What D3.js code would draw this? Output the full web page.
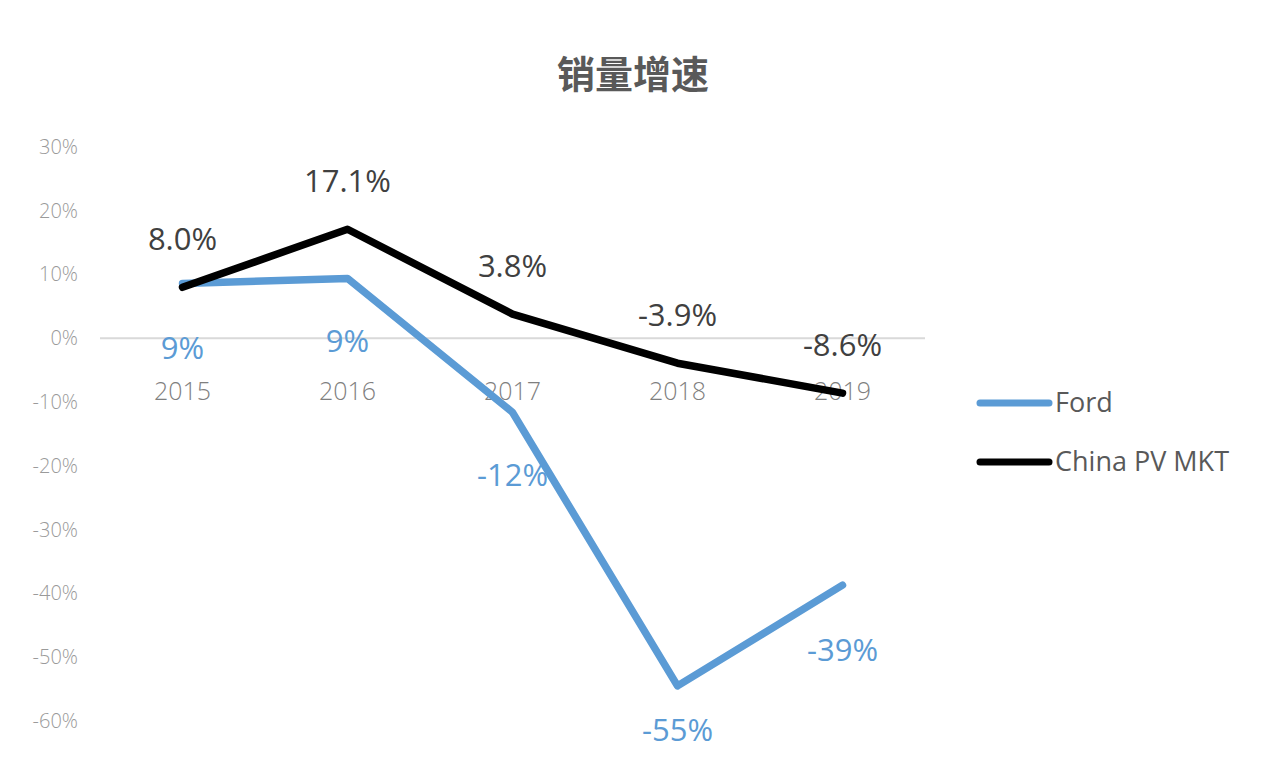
<!DOCTYPE html>
<html><head><meta charset="utf-8">
<script src="https://cdn.jsdelivr.net/npm/d3@7"></script>
<style>body{margin:0;background:#fff}</style>
</head><body>
<svg id="c" width="1270" height="758"></svg>
<script>
const years = ["2015","2016","2017","2018","2019"];
const fordValues = [8.6, 9.4, -11.6, -54.5, -38.7];
const fordLabels = ["9%","9%","-12%","-55%","-39%"];
const chinaValues = [8.0, 17.1, 3.8, -3.9, -8.6];
const chinaLabels = ["8.0%","17.1%","3.8%","-3.9%","-8.6%"];
const yTicks = [30,20,10,0,-10,-20,-30,-40,-50,-60];
const seriesNames = ["Ford","China PV MKT"];
const colors = ["#5b9bd5","#000000"];

const svg = d3.select("#c");
const x = d3.scaleBand().domain(years).range([100,925]);
const y = d3.scaleLinear().domain([-60,30]).range([721,147]);

svg.append("text").attr("x",633).attr("y",75).attr("dy","0.35em").attr("text-anchor","middle")
  .attr("font-family","Noto Sans CJK SC").attr("font-weight","bold").attr("font-size",38)
  .attr("fill","#595959").text("销量增速");

// y axis
const yAxis = d3.axisLeft(y).tickValues(yTicks).tickFormat(d=>d+"%").tickSize(0).tickPadding(0);
const ga = svg.append("g").attr("transform","translate(78,0)").call(yAxis);
ga.select(".domain").remove();
ga.selectAll("text").attr("font-family","Open Sans").attr("font-weight","300").attr("font-size",20).attr("fill","#9a9a9a");

// zero line
svg.append("line").attr("x1",100).attr("x2",925).attr("y1",y(0)).attr("y2",y(0))
  .attr("stroke","#d9d9d9").attr("stroke-width",2);

// x axis labels
const xAxis = d3.axisBottom(x).tickSize(0).tickPadding(0);
const gx = svg.append("g").attr("transform",`translate(0,${y(0)+44})`).call(xAxis);
gx.select(".domain").remove();
gx.selectAll("text").attr("font-family","Open Sans").attr("font-weight","300").attr("font-size",25).attr("fill","#7f7f7f");

const line = d3.line().x((d,i)=>x(years[i])+x.bandwidth()/2).y(d=>y(d));

svg.append("path").datum(fordValues).attr("d",line).attr("fill","none")
  .attr("stroke",colors[0]).attr("stroke-width",7.5).attr("stroke-linejoin","round").attr("stroke-linecap","round");
svg.append("path").datum(chinaValues).attr("d",line).attr("fill","none")
  .attr("stroke",colors[1]).attr("stroke-width",7.5).attr("stroke-linejoin","round").attr("stroke-linecap","round");

// labels
const fordDy = [65,63,63,44,65];
svg.selectAll(".fl").data(fordValues).enter().append("text")
  .attr("x",(d,i)=>x(years[i])+x.bandwidth()/2)
  .attr("y",(d,i)=>y(d)+fordDy[i])
  .attr("dy","0.35em").attr("text-anchor","middle")
  .attr("font-family","Open Sans").attr("font-size",31).attr("fill",colors[0])
  .text((d,i)=>fordLabels[i]);
svg.selectAll(".cl").data(chinaValues).enter().append("text")
  .attr("x",(d,i)=>x(years[i])+x.bandwidth()/2)
  .attr("y",d=>y(d)-48)
  .attr("dy","0.35em").attr("text-anchor","middle")
  .attr("font-family","Open Sans").attr("font-size",31).attr("fill","#404040")
  .text((d,i)=>chinaLabels[i]);

// legend
const lg = svg.append("g");
seriesNames.forEach((n,i)=>{
  const yy = 403 + i*59;
  lg.append("line").attr("x1",980).attr("x2",1049).attr("y1",yy).attr("y2",yy)
    .attr("stroke",colors[i]).attr("stroke-width",7).attr("stroke-linecap","round");
  lg.append("text").attr("x",1055).attr("y",yy).attr("dy","0.35em")
    .attr("font-family","Open Sans").attr("font-size",27).attr("fill","#595959").text(n);
});
</script>
</body></html>
